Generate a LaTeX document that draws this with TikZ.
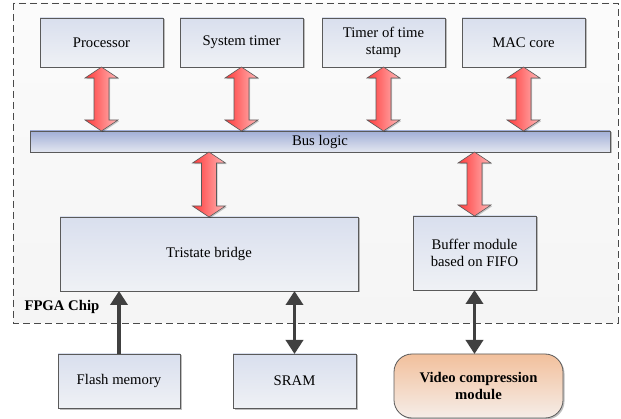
\documentclass[tikz,border=0pt]{standalone}
\usepackage{fontspec}
\setmainfont{Liberation Serif}
\usetikzlibrary{arrows.meta,shadows,calc}

\definecolor{boxtop}{HTML}{D9DFEE}
\definecolor{boxbot}{HTML}{EFF1F5}
\definecolor{bustop}{HTML}{A2AFD7}
\definecolor{busbot}{HTML}{E2E6F0}
\definecolor{edgegray}{HTML}{5A5A5A}
\definecolor{framebg}{HTML}{F5F5F5}
\definecolor{frameedge}{HTML}{4A4A4A}
\definecolor{redleft}{HTML}{FF3A3A}
\definecolor{redright}{HTML}{FFB8B8}
\definecolor{linkgray}{HTML}{404040}
\definecolor{vidtop}{HTML}{F2C09C}
\definecolor{vidbot}{HTML}{F5EDE8}

\tikzset{
  txt/.style={font=\fontsize{14.7}{17}\selectfont},
  blk/.style={txt, draw=edgegray, line width=0.8pt, top color=boxtop, bottom color=boxbot,
    inner sep=0pt, outer sep=0pt, align=center,
    drop shadow={shadow xshift=1.5pt, shadow yshift=-1.5pt, opacity=.25, fill=black}},
  busbar/.style={blk, top color=bustop, bottom color=busbot},
  vidbox/.style={blk, rounded corners=18pt, top color=vidtop, bottom color=vidbot,
    font=\fontsize{14.7}{17}\selectfont\bfseries},
  fpga/.style={draw=frameedge, line width=0.8pt, dash pattern=on 7pt off 4pt,
    top color=white!60!framebg, bottom color=framebg},
  redarr/.style={draw=edgegray, line width=0.6pt, left color=redleft, right color=redright,
    drop shadow={shadow xshift=1.2pt, shadow yshift=-1.2pt, opacity=.2, fill=black}},
  link/.style={draw=linkgray, line width=3.5pt, {Triangle[width=17pt,length=14pt]}-},
  linkboth/.style={draw=linkgray, line width=3.5pt,
    {Triangle[width=17pt,length=14pt]}-{Triangle[width=17pt,length=14pt]}},
}

% hollow double-headed block arrow from a top point to a bottom point
\newcommand\busarrow[2]{%
  \path let \p1=(#1), \p2=(#2) in [redarr]
    (\x1,\y1) -- (\x1+16.5pt,\y1-11pt) -- (\x1+7.5pt,\y1-11pt)
    -- (\x1+7.5pt,\y2+11pt) -- (\x1+16.5pt,\y2+11pt) -- (\x1,\y2)
    -- (\x1-16.5pt,\y2+11pt) -- (\x1-7.5pt,\y2+11pt)
    -- (\x1-7.5pt,\y1-11pt) -- (\x1-16.5pt,\y1-11pt) -- cycle;}

\begin{document}
\begin{tikzpicture}[x=1pt,y=-1pt]
  \useasboundingbox (0,0) rectangle (621,419);

  % FPGA chip boundary
  \path[fpga] (13,3) rectangle (618,323);
  \node[txt, font=\fontsize{14.7}{17}\selectfont\bfseries, anchor=west] (chip) at (21,307) {FPGA Chip};

  % on-chip modules
  \node[blk, minimum width=123pt, minimum height=49pt] (proc) at (101.5,42.5) {Processor};
  \node[blk, minimum width=123pt, minimum height=49pt] (systimer) at (241.5,42.5) {System timer};
  \node[blk, minimum width=123pt, minimum height=49pt] (stamp) at (383.5,42.5) {Timer of time\\stamp};
  \node[blk, minimum width=123pt, minimum height=49pt] (mac) at (523.5,42.5) {MAC core};

  \node[busbar, minimum width=580pt, minimum height=21pt] (bus) at (320,141.5) {Bus logic};

  \node[blk, minimum width=298pt, minimum height=74pt] (tri) at (209,254) {Tristate bridge};
  \node[blk, minimum width=123pt, minimum height=74pt] (buf) at (474.5,253) {Buffer module\\based on FIFO};

  % off-chip devices
  \node[blk, minimum width=122pt, minimum height=54pt] (flash) at (119,381) {Flash memory};
  \node[blk, minimum width=123pt, minimum height=54pt] (sram) at (294.5,381) {SRAM};
  \node[vidbox, minimum width=169pt, minimum height=64pt] (vid) at (478.5,386) {Video compression\\module};

  % bus connections
  \busarrow{proc.south}{bus.north}
  \busarrow{systimer.south}{bus.north}
  \busarrow{stamp.south}{bus.north}
  \busarrow{mac.south}{bus.north}
  \busarrow{bus.south -| tri.north}{tri.north}
  \busarrow{bus.south -| buf.north}{buf.north}

  % external links
  \draw[link] (tri.south -| flash.north) -- (flash.north);
  \draw[linkboth] (tri.south -| sram.north) -- (sram.north);
  \draw[linkboth] (buf.south) -- (buf.south |- vid.north);
\end{tikzpicture}
\end{document}
